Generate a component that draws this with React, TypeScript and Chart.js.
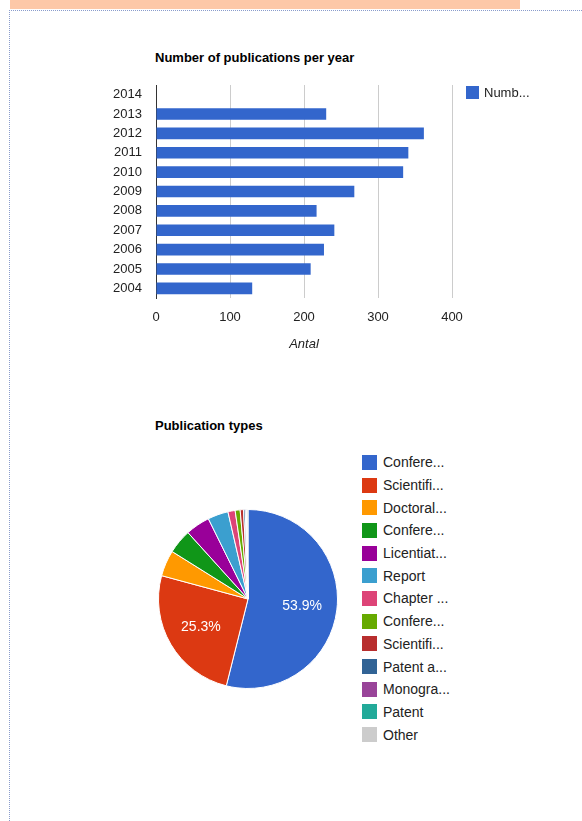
import { useEffect, useRef } from "react";
import { Chart, registerables } from "chart.js";

Chart.register(...registerables);

// bar chart data (top to bottom is reversed: 2014 first)
const years = ["2004", "2005", "2006", "2007", "2008", "2009", "2010", "2011", "2012", "2013", "2014"];
const publications = [130, 209, 227, 241, 217, 268, 334, 341, 362, 230, 0];
const xMax = 400;
const xStep = 100;

// pie chart data
const typeLabels = [
  "Confere...",
  "Scientifi...",
  "Doctoral...",
  "Confere...",
  "Licentiat...",
  "Report",
  "Chapter ...",
  "Confere...",
  "Scientifi...",
  "Patent a...",
  "Monogra...",
  "Patent",
  "Other",
];
const typeShares = [53.9, 25.3, 4.7, 4.4, 4.4, 3.7, 1.3, 0.9, 0.6, 0.3, 0.2, 0.1, 0.2];
const typeColors = [
  "#3366cc",
  "#dc3912",
  "#ff9900",
  "#109618",
  "#990099",
  "#3b9fcf",
  "#dd4477",
  "#66aa00",
  "#b82e2e",
  "#316395",
  "#994499",
  "#22aa99",
  "#cccccc",
];

const FONT = "'Liberation Sans', Arial, sans-serif";

const sliceLabels = {
  id: "sliceLabels",
  afterDatasetsDraw(chart: Chart) {
    const meta = chart.getDatasetMeta(0);
    const ctx = chart.ctx;
    ctx.save();
    ctx.font = `14px ${FONT}`;
    ctx.fillStyle = "#ffffff";
    ctx.textAlign = "center";
    ctx.textBaseline = "middle";
    meta.data.forEach((arc: any, i: number) => {
      const v = typeShares[i];
      if (v < 10) return;
      const { x, y, startAngle, endAngle, outerRadius } = arc.getProps(
        ["x", "y", "startAngle", "endAngle", "outerRadius"],
        true,
      );
      const mid = (startAngle + endAngle) / 2;
      const r = outerRadius * 0.61;
      ctx.fillText(`${v.toFixed(1)}%`, x + Math.cos(mid) * r, y + Math.sin(mid) * r);
    });
    ctx.restore();
  },
};

function YearBars() {
  const ref = useRef<HTMLCanvasElement | null>(null);

  useEffect(() => {
    if (!ref.current) return;
    const chart = new Chart(ref.current, {
      type: "bar",
      data: {
        labels: years,
        datasets: [
          {
            label: "Number of publications",
            data: publications,
            backgroundColor: "#3366cc",
            barPercentage: 0.6,
            categoryPercentage: 1,
          },
        ],
      },
      options: {
        indexAxis: "y",
        responsive: false,
        animation: false,
        layout: { padding: { top: 6, right: 18, left: 0, bottom: 0 } },
        plugins: { legend: { display: false }, tooltip: { enabled: false } },
        scales: {
          x: {
            min: 0,
            max: xMax,
            ticks: { stepSize: xStep, color: "#222", font: { family: FONT, size: 13 }, padding: 12 },
            grid: {
              color: (c: any) => (c.tick && c.tick.value === 0 ? "rgba(0,0,0,0)" : "#cccccc"),
              drawTicks: false,
            },
            border: { display: false },
            title: {
              display: true,
              text: "Antal",
              color: "#222",
              font: { family: FONT, size: 13, style: "italic" },
              padding: 0,
            },
            afterFit: (s: any) => {
              s.height = 54;
              s.paddingLeft = 0;
              s.paddingRight = 0;
            },
          },
          y: {
            reverse: true,
            ticks: {
              color: "#222",
              font: { family: FONT, size: 13 },
              padding: 14,
              autoSkip: false,
            },
            grid: { display: false, drawTicks: false },
            border: { display: true, color: "#333333", width: 1 },
            afterFit: (s: any) => {
              s.width = 56;
              s.paddingTop = 0;
              s.paddingBottom = 0;
            },
          },
        },
      },
    });
    return () => chart.destroy();
  }, []);

  return (
    <canvas
      ref={ref}
      width={370}
      height={273}
      style={{ position: "absolute", left: 100, top: 79, width: 370, height: 273 }}
    />
  );
}

function TypesPie() {
  const ref = useRef<HTMLCanvasElement | null>(null);

  useEffect(() => {
    if (!ref.current) return;
    const chart = new Chart(ref.current, {
      type: "pie",
      data: {
        labels: typeLabels,
        datasets: [
          {
            data: typeShares,
            backgroundColor: typeColors,
            borderColor: "#ffffff",
            borderWidth: 1,
          },
        ],
      },
      options: {
        responsive: false,
        animation: false,
        layout: { padding: 10 },
        plugins: { legend: { display: false }, tooltip: { enabled: false } },
      },
      plugins: [sliceLabels],
    });
    return () => chart.destroy();
  }, []);

  return (
    <canvas
      ref={ref}
      width={200}
      height={200}
      style={{ position: "absolute", left: 148, top: 499, width: 200, height: 200 }}
    />
  );
}

export default function App() {
  const title = {
    position: "absolute" as const,
    left: 155,
    fontFamily: FONT,
    fontWeight: "bold" as const,
    fontSize: 13,
    color: "#000",
    lineHeight: "16px",
    whiteSpace: "nowrap" as const,
  };
  return (
    <div
      style={{
        position: "absolute",
        left: 0,
        top: 0,
        width: 582,
        height: 821,
        background: "#fff",
        overflow: "hidden",
        fontFamily: FONT,
      }}
    >
      <div style={{ position: "absolute", left: 10, top: 0, width: 510, height: 9, background: "#fdc8a8" }} />
      <div
        style={{
          position: "absolute",
          left: 9,
          top: 10,
          width: 600,
          height: 900,
          borderTop: "1px dotted #8a9ccc",
          borderLeft: "1px dotted #8a9ccc",
        }}
      />

      <div style={{ ...title, top: 50 }}>Number of publications per year</div>
      <YearBars />
      <div style={{ position: "absolute", left: 466, top: 85, display: "flex", alignItems: "center" }}>
        <div style={{ width: 13, height: 13, background: "#3366cc", marginRight: 5 }} />
        <span style={{ fontSize: 13, color: "#222", lineHeight: "15px" }}>Numb...</span>
      </div>

      <div style={{ ...title, top: 418 }}>Publication types</div>
      <TypesPie />
      <div style={{ position: "absolute", left: 362, top: 451 }}>
        {typeLabels.map((label, i) => (
          <div key={i} style={{ display: "flex", alignItems: "center", height: 22.7 }}>
            <div style={{ width: 15, height: 15, background: typeColors[i], marginRight: 6 }} />
            <span style={{ fontSize: 14, color: "#222", whiteSpace: "nowrap" }}>{label}</span>
          </div>
        ))}
      </div>
    </div>
  );
}
